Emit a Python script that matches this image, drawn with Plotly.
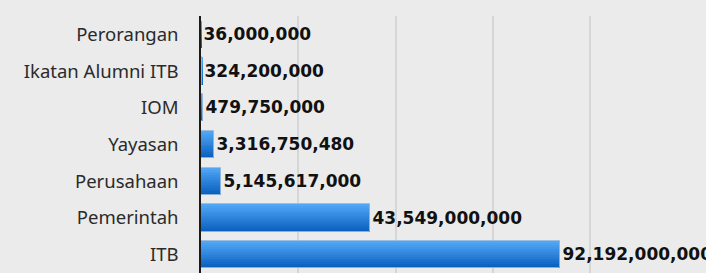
import plotly.graph_objects as go

categories = ["Perorangan", "Ikatan Alumni ITB", "IOM", "Yayasan", "Perusahaan", "Pemerintah", "ITB"]
values = [36000000, 324200000, 479750000, 3316750480, 5145617000, 43549000000, 92192000000]
value_labels = ["36,000,000", "324,200,000", "479,750,000", "3,316,750,480",
                "5,145,617,000", "43,549,000,000", "92,192,000,000"]

top_rgb = (80, 166, 245)
bot_rgb = (10, 96, 190)
N = 14
bar_w = 0.74

fig = go.Figure()
for k in range(N):
    t = k / (N - 1)
    c = tuple(int(round(top_rgb[i] + (bot_rgb[i] - top_rgb[i]) * t)) for i in range(3))
    fig.add_trace(go.Bar(
        x=values, y=categories, orientation="h",
        width=bar_w / N + 0.002, offset=-bar_w / 2 + k * bar_w / N,
        marker=dict(color="rgb(%d,%d,%d)" % c, line=dict(width=0)),
        hoverinfo="skip", showlegend=False,
    ))

fig.add_trace(go.Bar(
    x=values, y=categories, orientation="h",
    width=bar_w, offset=-bar_w / 2,
    marker=dict(color="rgba(0,0,0,0)", line=dict(width=1, color="rgba(150,185,220,0.9)")),
    text=value_labels, textposition="outside", cliponaxis=False,
    textfont=dict(family="DejaVu Sans", size=17, color="#111111", weight="bold"),
    showlegend=False,
))

fig.update_layout(
    width=706, height=273,
    margin=dict(l=201, r=38, t=16, b=0),
    paper_bgcolor="#ebebeb", plot_bgcolor="#ebebeb",
    barmode="overlay", bargap=0,
    font=dict(family="Noto Sans", size=18.5, color="#2a2a2a"),
)
fig.update_xaxes(range=[0, 1.2e11], dtick=2.5e10, showgrid=True, gridcolor="#d6d6d6",
                 gridwidth=1.5, zeroline=False, showticklabels=False, fixedrange=True)
fig.update_yaxes(autorange="reversed", showline=True, linecolor="#1a1a1a", linewidth=1.5,
                 ticks="", ticklabelstandoff=17, showgrid=False)

fig.write_html("out.html", config={"displayModeBar": False},
               post_script="document.body.style.margin='0';document.body.style.background='#ebebeb';")
